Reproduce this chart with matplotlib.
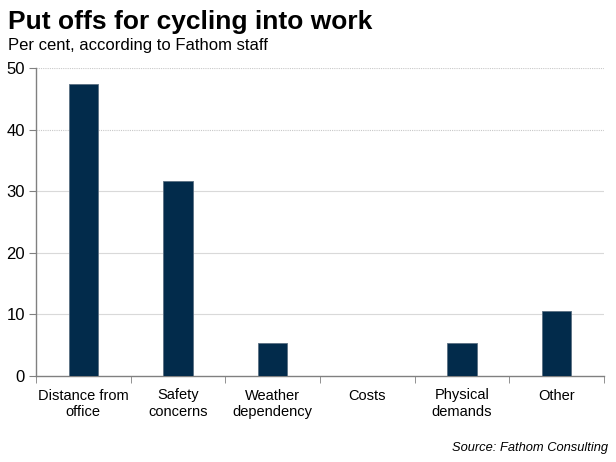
import numpy as np
import matplotlib
matplotlib.use('Agg')
import matplotlib.pyplot as plt

categories = ["Distance from\noffice", "Safety\nconcerns", "Weather\ndependency",
              "Costs", "Physical\ndemands", "Other"]
values = [47.4, 31.6, 5.3, 0.0, 5.3, 10.5]
yticks = [0, 10, 20, 30, 40, 50]

plt.rcParams['font.family'] = ['Liberation Sans', 'DejaVu Sans']

fig = plt.figure(figsize=(6.16, 4.62), dpi=100)
ax = fig.add_axes([36 / 616, 1 - 376 / 462, 568 / 616, 308 / 462])

x = np.arange(len(categories))
ax.bar(x, values, width=0.31, color='#022b4b', edgecolor='#5a6f82',
       linewidth=0.6, zorder=3)

ax.set_xlim(-0.5, len(categories) - 0.5)
ax.set_ylim(0, 50)
ax.set_yticks(yticks)
ax.set_yticklabels([str(t) for t in yticks], fontsize=12)

# gridlines: dotted at top two, solid below
for t in yticks[1:]:
    if t >= 40:
        ax.axhline(t, color='#c8c8c8', lw=0.8, ls=(0, (1, 1)), zorder=1)
    else:
        ax.axhline(t, color='#d9d9d9', lw=0.8, zorder=1)

ax.set_xticks(x)
ax.set_xticklabels(categories, fontsize=10.5, linespacing=1.25)
ax.tick_params(axis='x', length=0, pad=9)
ax.set_xticks(np.arange(-0.5, len(categories)), minor=True)
ax.tick_params(axis='x', which='minor', length=5, color='#808080', direction='out')
ax.tick_params(axis='y', length=5, color='#808080', direction='out', pad=3)

for s in ['top', 'right']:
    ax.spines[s].set_visible(False)
for s in ['left', 'bottom']:
    ax.spines[s].set_color('#808080')
    ax.spines[s].set_linewidth(1.0)

fig.text(8 / 616, 1 - 29 / 462, "Put offs for cycling into work",
         fontsize=19, fontweight='bold', ha='left', va='baseline')
fig.text(8 / 616, 1 - 50 / 462, "Per cent, according to Fathom staff",
         fontsize=12, ha='left', va='baseline')
fig.text(608 / 616, 1 - 451 / 462, "Source: Fathom Consulting",
         fontsize=9.3, style='italic', ha='right', va='baseline')

plt.savefig("out.png", dpi=100)
